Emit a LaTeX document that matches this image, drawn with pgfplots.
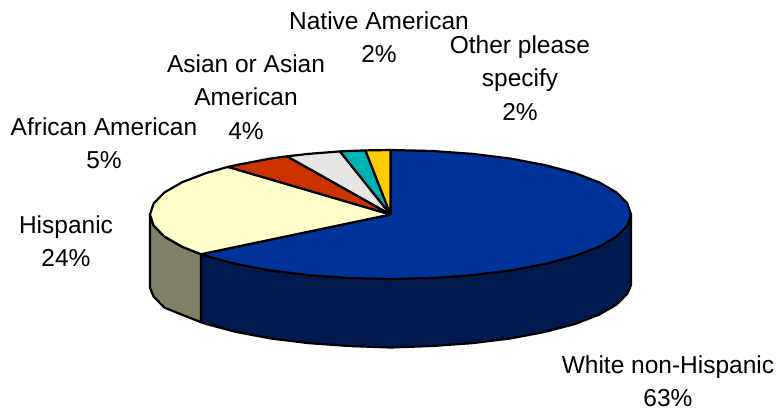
\documentclass[border=0pt]{standalone}
\usepackage{fontspec}
\setmainfont{Liberation Sans}
\usepackage{pgfplots}
\pgfplotsset{compat=1.18}
\definecolor{wedgeBlue}{HTML}{003399}
\definecolor{wallBlue}{HTML}{001A4D}
\definecolor{wedgeCream}{HTML}{FFFFCC}
\definecolor{wallOlive}{HTML}{808066}
\definecolor{wedgeRed}{HTML}{CC3300}
\definecolor{wedgeGrey}{HTML}{E6E6E6}
\definecolor{wedgeTeal}{HTML}{00B3B3}
\definecolor{wedgeGold}{HTML}{FFCC00}
\tikzset{lbl/.style={font=\fontsize{24.5}{33.5}\selectfont, align=center, anchor=center, inner sep=0pt}}
\begin{document}
\begin{tikzpicture}
\useasboundingbox (0,0) rectangle (779pt,413pt);
\begin{axis}[
  at={(0,0)}, anchor=south west,
  width=779pt, height=413pt, scale only axis,
  xmin=0, xmax=779, ymin=0, ymax=413, y dir=reverse,
  hide axis, clip=false,
  every axis plot/.append style={no markers, draw=black, line width=2.2pt, line join=round},
]
% side walls of the disc
\addplot[fill=wallBlue] coordinates {
 (631,214.5)(627.3,225.7)(616.5,236.6)(598.8,246.8)(574.7,256)(545.1,263.9)(510.8,270.4)
 (472.8,275.1)(432.3,278)(390.5,279)(348.7,278)(308.2,275.1)(270.2,270.4)(235.9,263.9)
 (206.3,256)(201,254.2)
 (201,322.2)(206.3,324)(235.9,331.9)(270.2,338.4)(308.2,343.1)(348.7,346)(390.5,347.5)
 (432.3,346)(472.8,343.1)(510.8,338.4)(545.1,331.9)(574.7,324)(598.8,314.8)(616.5,304.6)
 (627.3,293.7)(631,285)(631,214.5)};
\addplot[fill=wallOlive] coordinates {
 (201,254.2)(182.2,246.8)(164.5,236.6)(153.7,225.7)(150,214.5)
 (150,288)(153.7,296.7)(164.5,307.6)(182.2,314.8)(201,322.2)(201,254.2)};
% top face, clockwise from twelve o'clock
\addplot[fill=wedgeBlue] coordinates {
 (390.5,214.5)(390.5,150)(432.3,151)(472.8,153.9)(510.8,158.6)(545.1,165.1)(574.7,173)
 (598.8,182.2)(616.5,192.4)(627.3,203.3)(631,214.5)(627.3,225.7)(616.5,236.6)(598.8,246.8)
 (574.7,256)(545.1,263.9)(510.8,270.4)(472.8,275.1)(432.3,278)(390.5,279)(348.7,278)
 (308.2,275.1)(270.2,270.4)(235.9,263.9)(206.3,256)(201,254.2)(390.5,214.5)};
\addplot[fill=wedgeCream] coordinates {
 (390.5,214.5)(201,254.2)(182.2,246.8)(164.5,236.6)(153.7,225.7)(150,214.5)(153.7,203.3)
 (164.5,192.4)(182.2,182.2)(206.3,173)(228,166.9)(390.5,214.5)};
\addplot[fill=wedgeRed] coordinates {
 (390.5,214.5)(228,166.9)(235.9,165.1)(270.2,158.6)(287,156.3)(390.5,214.5)};
\addplot[fill=wedgeGrey] coordinates {
 (390.5,214.5)(287,156.3)(308.2,153.9)(340,151.4)(390.5,214.5)};
\addplot[fill=wedgeTeal] coordinates {
 (390.5,214.5)(340,151.4)(348.7,151)(365.4,150.4)(390.5,214.5)};
\addplot[fill=wedgeGold] coordinates {
 (390.5,214.5)(365.4,150.4)(390.5,150)(390.5,214.5)};
% slice labels
\node[lbl] at (axis cs:379,37) {Native American\\2\%};
\node[lbl] at (axis cs:520,78) {Other please\\specify\\2\%};
\node[lbl] at (axis cs:246,97) {Asian or Asian\\American\\4\%};
\node[lbl] at (axis cs:104,143) {African American\\5\%};
\node[lbl] at (axis cs:66,241) {Hispanic\\24\%};
\node[lbl] at (axis cs:668,381) {White non-Hispanic\\63\%};
\end{axis}
\end{tikzpicture}
\end{document}
